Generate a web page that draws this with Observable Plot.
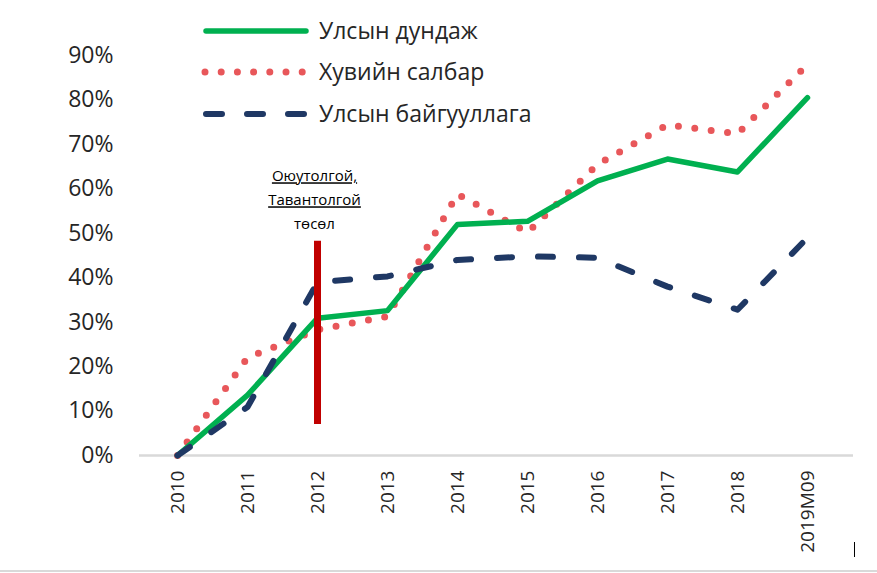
<!DOCTYPE html>
<html>
<head>
<meta charset="utf-8">
<script src="https://cdn.jsdelivr.net/npm/d3@7"></script>
<script src="https://cdn.jsdelivr.net/npm/@observablehq/plot@0.6"></script>
<style>
  html, body { margin: 0; padding: 0; background: #fff; }
  #wrap { position: relative; width: 877px; height: 573px; overflow: hidden; font-family: "Open Sans", "Noto Sans", sans-serif; }
  #legend { position: absolute; left: 0; top: 0; }
  #bottomline { position: absolute; left: 0; right: 0; top: 570px; height: 2px; background: #d9d9d9; }
  #cursor { position: absolute; left: 854px; top: 542px; width: 1px; height: 15px; background: #000; }
</style>
</head>
<body>
<div id="wrap">
  <div id="chart"></div>
  <div id="legend"></div>
  <div id="bottomline"></div>
  <div id="cursor"></div>
</div>
<script>
// ---- data ----
const categories = ["2010", "2011", "2012", "2013", "2014", "2015", "2016", "2017", "2018", "2019M09"];
const nationalAvg = [0, 0.136, 0.309, 0.326, 0.52, 0.527, 0.618, 0.667, 0.638, 0.805];
const privateSector = [0, 0.22, 0.283, 0.313, 0.588, 0.502, 0.655, 0.744, 0.724, 0.88];
const publicSector = [0, 0.109, 0.39, 0.403, 0.44, 0.448, 0.445, 0.38, 0.328, 0.49];
const seriesNames = ["Улсын дундаж", "Хувийн салбар", "Улсын байгууллага"];
const yTicks = [0, 0.1, 0.2, 0.3, 0.4, 0.5, 0.6, 0.7, 0.8, 0.9];
const markerCategory = ["2012"];
const markerRange = [0.07, 0.482];
const annotationLines = ["Оюутолгой,", "Тавантолгой", "төсөл"];

// ---- styles ----
const styles = [
  {color: "#00B050", width: 5.5, dash: null, cap: "round"},
  {color: "#E8575A", width: 7, dash: "0 16.5", cap: "round"},
  {color: "#1F3864", width: 6, dash: "15 26", cap: "round"}
];

const seriesValues = [nationalAvg, privateSector, publicSector];
const rows = (vals) => categories.map((c, i) => ({cat: c, v: vals[i]}));
const drawOrder = [1, 0, 2];

const chart = Plot.plot({
  width: 877,
  height: 573,
  marginLeft: 139,
  marginRight: 24,
  marginTop: 20,
  marginBottom: 118,
  style: {fontFamily: "'Open Sans', 'Noto Sans', sans-serif", background: "#fff", color: "#262626"},
  x: {type: "point", domain: categories, range: [173, 810], padding: 0},
  y: {domain: [0, 0.9], range: [455, 55]},
  marks: [
    Plot.ruleY([0], {stroke: "#d9d9d9", strokeWidth: 2.5}),
    Plot.axisY({ticks: yTicks, tickFormat: d3.format(".0%"), tickSize: 0, tickPadding: 26, fontSize: 23, label: null, fill: "#262626"}),
    Plot.axisX({tickSize: 0, tickPadding: 15, tickRotate: -90, fontSize: 19, label: null, fill: "#262626"}),
    ...drawOrder.map(k => Plot.line(rows(seriesValues[k]), {
      x: "cat", y: "v",
      stroke: styles[k].color,
      strokeWidth: styles[k].width,
      strokeDasharray: styles[k].dash,
      strokeLinecap: styles[k].cap,
      strokeLinejoin: "round"
    })),
    Plot.ruleX(markerCategory, {y1: markerRange[0], y2: markerRange[1], stroke: "#C00000", strokeWidth: 7}),
    Plot.text([annotationLines.join("\n")], {
      x: () => markerCategory[0], y: () => markerRange[1],
      text: d => d, dy: -12, dx: -3, lineAnchor: "bottom", lineHeight: 1.6,
      fontSize: 15, fill: "#000", textAnchor: "middle"
    })
  ]
});
document.getElementById("chart").appendChild(chart);

// underline first two annotation lines
d3.select(chart).selectAll("g[aria-label='text'] tspan")
  .filter((d, i) => i < 2)
  .style("text-decoration", "underline");

// ---- legend ----
const legendSvg = d3.select("#legend").append("svg").attr("width", 600).attr("height", 135);
const rowY = [31, 72, 114];
seriesNames.forEach((name, i) => {
  const s = styles[i];
  const line = legendSvg.append("line")
    .attr("x1", 206).attr("x2", 306).attr("y1", rowY[i]).attr("y2", rowY[i])
    .attr("stroke", s.color).attr("stroke-width", s.width).attr("stroke-linecap", s.cap);
  if (i === 1) line.attr("x1", 205).attr("x2", 303).attr("stroke-dasharray", "0 16.2");
  if (i === 2) line.attr("x1", 206).attr("x2", 305).attr("stroke-dasharray", "16 25");
  legendSvg.append("text")
    .attr("x", 319).attr("y", rowY[i]).attr("dy", "0.35em")
    .attr("font-family", "'Open Sans', 'Noto Sans', sans-serif")
    .attr("font-size", 23).attr("fill", "#262626")
    .text(name);
});
</script>
</body>
</html>
